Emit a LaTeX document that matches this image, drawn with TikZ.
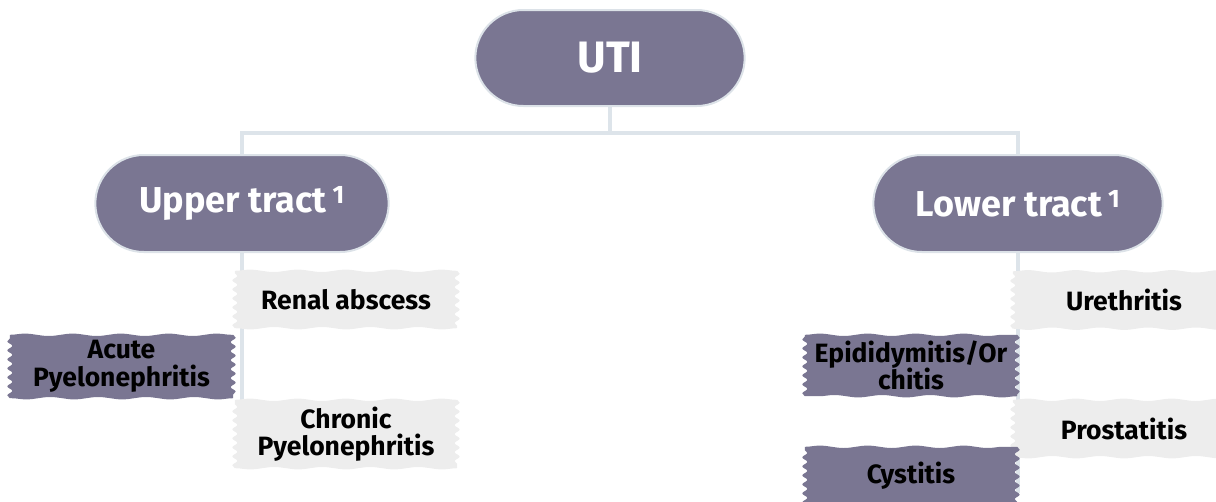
\documentclass[tikz,border=0pt]{standalone}
\usepackage{fontspec}
\setmainfont{Fira Sans}
\usepackage{tikz}
\usetikzlibrary{shapes.misc}
\usetikzlibrary{decorations.pathmorphing}
\usetikzlibrary{backgrounds}

\definecolor{utipurple}{HTML}{7A7692}
\definecolor{utigray}{HTML}{EDEDED}
\definecolor{utiline}{HTML}{DDE4EA}
\definecolor{utirim}{HTML}{DCE2E8}

% torn paper fill behind a named node
\newcommand{\tornfill}[2]{%
  \path[fill=#2] (#1.north west)
    decorate[decoration={snake,segment length=48pt,amplitude=1.2pt}] {-- (#1.north east)}
    decorate[decoration={snake,segment length=9pt,amplitude=2.5pt}] {-- (#1.south east)}
    decorate[decoration={snake,segment length=48pt,amplitude=1.2pt}] {-- (#1.south west)}
    decorate[decoration={snake,segment length=9pt,amplitude=2.5pt}] {-- (#1.north west)} -- cycle;
}

\begin{document}
\begin{tikzpicture}[x=1pt,y=-1pt,
    pill/.style={rounded rectangle, fill=utipurple, draw=utirim, line width=2pt,
      text=white, font=\bfseries\fontsize{36}{40}\selectfont, minimum height=97pt},
    leaf/.style={inner sep=0pt, align=center, text=black,
      font=\bfseries\fontsize{26.5}{27.5}\selectfont},
    link/.style={draw=utiline, line width=4pt}]
    \useasboundingbox (0,0) rectangle (1216,501);
    \clip (0,0) rectangle (1216,501);

    \node (uti) [pill, minimum width=276pt, minimum height=96pt,
      font=\bfseries\fontsize{44}{48}\selectfont] at (610,58) {UTI};
    \node (upper) [pill, minimum width=300pt] at (242,203.5) {Upper tract\,\textsuperscript{1}};
    \node (lower) [pill, minimum width=296pt] at (1018,203.5) {Lower tract\,\textsuperscript{1}};

    \node (renal) [leaf, minimum width=222pt, minimum height=57pt] at (346,299.5) {Renal abscess};
    \node (acute) [leaf, minimum width=223pt, minimum height=63pt] at (121.5,366.5) {Acute\\Pyelonephritis};
    \node (chronic) [leaf, minimum width=222pt, minimum height=68pt] at (346,434) {Chronic\\Pyelonephritis};

    \node (ureth) [leaf, minimum width=222pt, minimum height=57pt] at (1124,300) {Urethritis};
    \node (epid) [leaf, minimum width=212pt, minimum height=61pt] at (911,365.5) {Epididymitis/Or\\chitis};
    \node (prost) [leaf, minimum width=222pt, minimum height=57pt] at (1124,428.5) {Prostatitis};
    \node (cyst) [leaf, minimum width=212pt, minimum height=58pt] at (911,476) {Cystitis};

    \coordinate (bar) at (610,133);
    \coordinate (lowend) at (1019,493);

    \begin{scope}[on background layer]
      \draw[link] (uti.south) -- (uti.south |- bar);
      \draw[link] (upper.north) -- (upper.north |- bar) -- (lower.north |- bar) -- (lower.north);
      \draw[link] (upper.south) -- (upper.south |- chronic.north);
      \draw[link] (lower.south) -- (lower.south |- lowend);
      \tornfill{renal}{utigray}
      \tornfill{chronic}{utigray}
      \tornfill{ureth}{utigray}
      \tornfill{prost}{utigray}
      \tornfill{acute}{utipurple}
      \tornfill{epid}{utipurple}
      \tornfill{cyst}{utipurple}
    \end{scope}
\end{tikzpicture}
\end{document}
